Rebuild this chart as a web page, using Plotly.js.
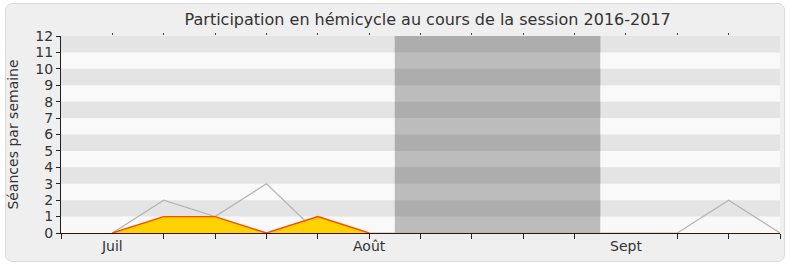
<!DOCTYPE html>
<html>
<head>
<meta charset="utf-8">
<script src="https://cdn.plot.ly/plotly-3.0.1.min.js"></script>
<style>
html,body{margin:0;padding:0;background:#ffffff;}
#wrap{position:relative;width:790px;height:267px;}
#box{position:absolute;left:5px;top:3px;width:778px;height:257px;background:#efefef;border:1px solid #dcdcdc;border-radius:7px;}
#chart{position:absolute;left:0;top:0;width:790px;height:267px;}
</style>
</head>
<body>
<div id="wrap"><div id="box"></div><div id="chart"></div></div>
<script>
// week index positions
const weeks = [0,1,2,3,4,5,6,7,8,9,10,11,12,13,14];
const monthTickVals = [1,6,11];
const monthTickText = ['Juil','Août','Sept'];
// total sittings per week (gray line)
const totalX = [1,2,3,4,5,6,7,8,9,10,11,12,13,14];
const totalY = [0,2,1,3,0,0,0,0,0,0,0,0,2,0];
// deputy's sittings per week (yellow area)
const deputyX = [1,2,3,4,5,6];
const deputyY = [0,1,1,0,1,0];
// recess period (shaded)
const recess = [6.5, 10.5];
const yMax = 12;

const shapes = [];
for (let k = 1; k < yMax; k += 2) {
  shapes.push({type:'rect', xref:'paper', yref:'y', x0:0, x1:1, y0:k, y1:k+1,
    fillcolor:'#e4e4e4', line:{width:0}, layer:'below'});
}
shapes.push({type:'rect', xref:'x', yref:'y', x0:recess[0], x1:recess[1], y0:0, y1:yMax,
  fillcolor:'#bcbcbc', line:{width:0}, layer:'below'});
for (let k = 1; k < yMax; k += 2) {
  shapes.push({type:'rect', xref:'x', yref:'y', x0:recess[0], x1:recess[1], y0:k, y1:k+1,
    fillcolor:'#adadad', line:{width:0}, layer:'below'});
}

const traces = [
  {x: totalX, y: totalY, type:'scatter', mode:'lines',
   line:{color:'#b4b4b4', width:1.2}, hoverinfo:'skip', showlegend:false},
  {x: deputyX, y: deputyY, type:'scatter', mode:'lines', fill:'tozeroy',
   fillcolor:'#ffd200', line:{color:'#ff4a00', width:1.4}, hoverinfo:'skip', showlegend:false},
  {x: weeks, y: weeks.map(()=>null), xaxis:'x2', type:'scatter', mode:'lines',
   hoverinfo:'skip', showlegend:false},
  {x: weeks, y: weeks.map(()=>null), xaxis:'x3', type:'scatter', mode:'lines',
   hoverinfo:'skip', showlegend:false}
];

const fontFam = 'DejaVu Sans, Verdana, sans-serif';
const layout = {
  width: 790, height: 267,
  paper_bgcolor:'rgba(0,0,0,0)', plot_bgcolor:'#f9f9f9',
  margin:{l:61, r:10, t:36, b:34},
  title:{text:'Participation en hémicycle au cours de la session 2016-2017',
    font:{family:fontFam, size:16, color:'#333333'}, xref:'paper', x:0.51, xanchor:'center', y:0.927, yanchor:'middle'},
  font:{family:fontFam, color:'#333333'},
  xaxis:{range:[0,14], tickvals:monthTickVals, ticktext:monthTickText,
    showgrid:false, zeroline:false, showline:true, linecolor:'#3a1200', linewidth:1.3,
    ticks:'', tickfont:{size:14, color:'#333333'}, fixedrange:true},
  xaxis2:{range:[0,14], overlaying:'x', side:'bottom', tickvals:[0,2,3,4,5,6,7,8,9,10,12,13,14],
    showticklabels:false, ticks:'outside', ticklen:5, tickcolor:'#222222', tickwidth:1,
    showgrid:false, zeroline:false, showline:false, anchor:'y'},
  xaxis3:{range:[0,14], overlaying:'x', side:'top', tickvals:[1,2,3,4,5,6,7,8,9,10,11,12,13],
    showticklabels:false, ticks:'outside', ticklen:2, tickcolor:'#444444', tickwidth:1,
    showgrid:false, zeroline:false, showline:false, anchor:'y'},
  yaxis:{range:[0,yMax], dtick:1, tick0:0, showgrid:false, zeroline:false,
    showline:true, linecolor:'#222222', linewidth:1, ticks:'outside', ticklen:4, tickcolor:'#222222',
    tickfont:{size:14, color:'#333333'}, fixedrange:true,
    title:{text:'Séances par semaine', font:{size:14, color:'#333333'}, standoff:13}},
  shapes: shapes
};
Plotly.newPlot('chart', traces, layout, {staticPlot:true});
</script>
</body>
</html>
